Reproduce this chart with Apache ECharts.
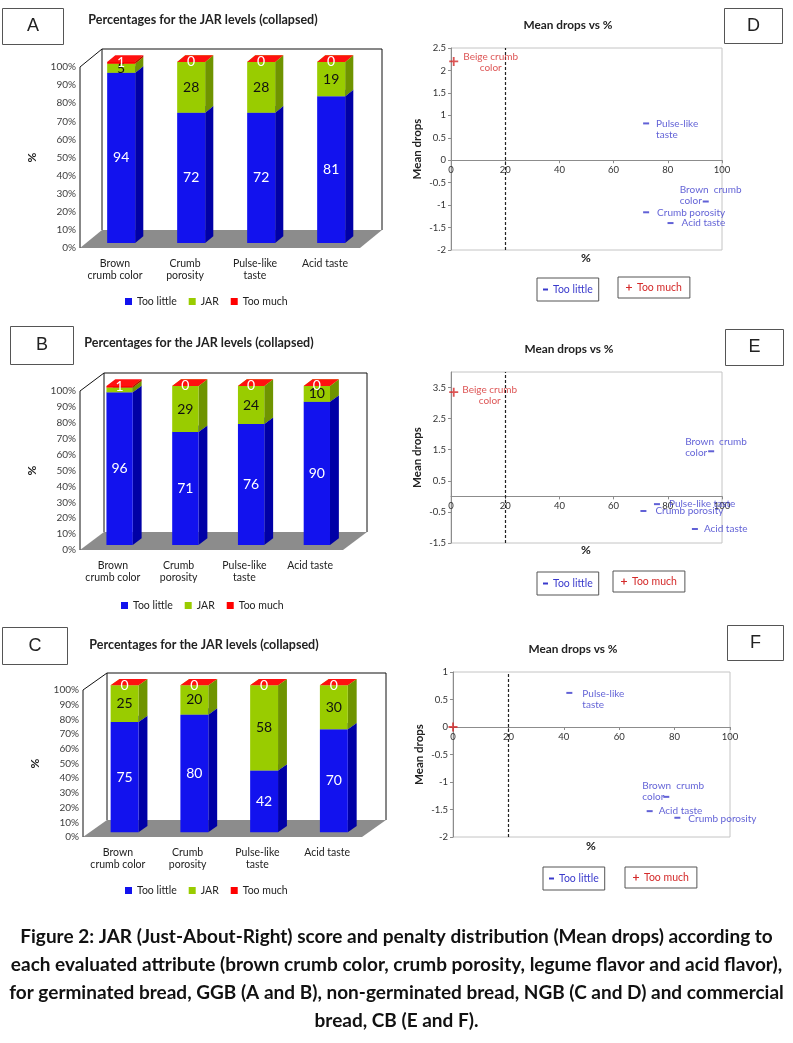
<!DOCTYPE html>
<html><head><meta charset="utf-8">
<script src="https://cdn.jsdelivr.net/npm/echarts/dist/echarts.min.js"></script>
<style>html,body{margin:0;padding:0;background:#fff}#c{width:793px;height:1043px}</style>
</head><body><div id="c"></div><script>
// ---------------- DATA ----------------
const categories = ['Brown\ncrumb color', 'Crumb\nporosity', 'Pulse-like\ntaste', 'Acid taste'];
const jarLevels = ['Too little', 'JAR', 'Too much'];
const A_tooLittle = [94, 72, 72, 81];
const A_jar       = [5, 28, 28, 19];
const A_tooMuch   = [1, 0, 0, 0];
const B_tooLittle = [96, 71, 76, 90];
const B_jar       = [3, 29, 24, 10];
const B_tooMuch   = [1, 0, 0, 0];
const C_tooLittle = [75, 80, 42, 70];
const C_jar       = [25, 20, 58, 30];
const C_tooMuch   = [0, 0, 0, 0];

const attributes = ['Brown crumb color', 'Crumb porosity', 'Pulse-like taste', 'Acid taste'];
const tooMuchAttribute = 'Beige crumb color';
const D_pct  = [94, 72, 72, 81];
const D_drop = [-0.92, -1.16, 0.82, -1.4];
const D_muchPct = [1], D_muchDrop = [2.2];
const E_pct  = [96, 71, 76, 90];
const E_drop = [1.45, -0.47, -0.25, -1.05];
const E_muchPct = [1], E_muchDrop = [3.35];
const F_pct  = [77, 81, 42, 71];
const F_drop = [-1.27, -1.65, 0.62, -1.53];
const F_muchPct = [0], F_muchDrop = [0];

const barTitle = 'Percentages for the JAR levels (collapsed)';
const scatterTitle = 'Mean drops vs %';
const captionLines = [
  'Figure 2: JAR (Just-About-Right) score and penalty distribution (Mean drops) according to',
  'each evaluated attribute (brown crumb color, crumb porosity, legume flavor and acid flavor),',
  'for germinated bread, GGB (A and B), non-germinated bread, NGB (C and D) and commercial',
  'bread, CB (E and F).'
];

// ---------------- STYLE ----------------
const FONT = 'Lato, "Open Sans", sans-serif';
const levelColors = [
  {front: '#1212ee', side: '#0000a6', top: '#2e2eff', label: '#ffffff', minLabel: 0},
  {front: '#99cc00', side: '#6f9400', top: '#a8d81a', label: '#111111', minLabel: 4},
  {front: '#ff0000', side: '#b80000', top: '#ff1010', label: '#ffffff', minLabel: 0}
];
const BLUE = '#3a3acc', RED = '#d42a2a';

const barPanels = [
  {grid: {left: 80, top: 67, width: 280, height: 181}, depth: [22, -18], levels: [A_tooLittle, A_jar, A_tooMuch], legend: {left: 125, top: 296}},
  {grid: {left: 80, top: 391, width: 263, height: 159}, depth: [24, -18], levels: [B_tooLittle, B_jar, B_tooMuch], legend: {left: 121, top: 600}},
  {grid: {left: 83, top: 690, width: 279, height: 147}, depth: [24, -17], levels: [C_tooLittle, C_jar, C_tooMuch], legend: {left: 125, top: 885}}
];

const labelText = {
  'Brown crumb color': 'Brown  crumb\ncolor',
  'Crumb porosity': 'Crumb porosity',
  'Pulse-like taste': 'Pulse-like\ntaste',
  'Acid taste': 'Acid taste'
};
const scatterPanels = [
  {grid: {left: 451, top: 48, width: 271, height: 202}, y: {min: -2, max: 2.5, interval: 0.5},
   pct: D_pct, drop: D_drop, muchPct: D_muchPct, muchDrop: D_muchDrop, muchLabel: [37, 1],
   lay: [['left', -26, -6], ['left', 11, 0], ['left', 10, 6], ['left', 11, 0]],
   legends: [{left: 537, top: 278}, {left: 618, top: 277}]},
  {grid: {left: 451, top: 372, width: 271, height: 171}, y: {min: -1.5, max: 4, interval: 1},
   pct: E_pct, drop: E_drop, muchPct: E_muchPct, muchDrop: E_muchDrop, muchLabel: [36, 3],
   lay: [['left', -26, -4], ['left', 12, 0], ['left', 12, 0, 'Pulse-like taste'], ['left', 9, 0]],
   legends: [{left: 537, top: 572}, {left: 613, top: 571}]},
  {grid: {left: 453, top: 672, width: 277, height: 165}, y: {min: -2, max: 1, interval: 0.5},
   pct: F_pct, drop: F_drop, muchPct: F_muchPct, muchDrop: F_muchDrop, muchLabel: null,
   lay: [['left', -24, -5.5], ['left', 11, 1], ['left', 13, 6], ['left', 9, 0]],
   legends: [{left: 543, top: 867}, {left: 625, top: 867}]}
];

// ---------------- BUILD ----------------
const grid = [], xAxis = [], yAxis = [], series = [], legend = [];

function frameRenderer(depth) {
  return function (params, api) {
    const cs = params.coordSys;
    const x = cs.x, y = cs.y, w = cs.width, h = cs.height, dx = depth[0], dy = depth[1];
    return {type: 'group', children: [
      {type: 'polygon', shape: {points: [[x, y + h], [x + w, y + h], [x + w + dx, y + h + dy], [x + dx, y + h + dy]]},
       style: {fill: '#8c8c8c'}},
      {type: 'polyline', shape: {points: [[x + dx, y + h + dy], [x + dx, y + dy], [x + w + dx, y + dy], [x + w + dx, y + h + dy]]},
       style: {fill: null, stroke: '#111', lineWidth: 1}},
      {type: 'polyline', shape: {points: [[x, y + h], [x, y], [x + dx, y + dy]]},
       style: {fill: null, stroke: '#111', lineWidth: 1}}
    ]};
  };
}

function barRenderer(depth, col) {
  return function (params, api) {
    const base = api.value(1), top = api.value(2), val = api.value(3), cat = api.value(0);
    const pB = api.coord([cat, base]), pT = api.coord([cat, top]);
    const band = api.size([1, 0])[0];
    const bw = band * 0.4;
    const ox = depth[0] * 0.28, oy = depth[1] * 0.28, dx = depth[0] * 0.37, dy = depth[1] * 0.37;
    const xl = pB[0] - bw / 2 + ox, xr = xl + bw;
    const yb = pB[1] + oy, yt = pT[1] + oy;
    const ch = [
      {type: 'polygon', shape: {points: [[xr, yt], [xr + dx, yt + dy], [xr + dx, yb + dy], [xr, yb]]}, style: {fill: col.side}},
      {type: 'rect', shape: {x: xl, y: yt, width: bw, height: yb - yt}, style: {fill: col.front}},
      {type: 'polygon', shape: {points: [[xl, yt], [xl + dx, yt + dy], [xr + dx, yt + dy], [xr, yt]]}, style: {fill: col.top}}
    ];
    if (val >= col.minLabel) {
      ch.push({type: 'text', z2: 20, x: (xl + xr) / 2, y: (yt + yb) / 2,
        style: {text: String(val), fill: col.label, fontSize: 14, fontFamily: FONT, align: 'center', verticalAlign: 'middle'}});
    }
    return {type: 'group', children: ch};
  };
}

barPanels.forEach((p, gi) => {
  grid.push(Object.assign({containLabel: false}, p.grid));
  xAxis.push({type: 'category', gridIndex: gi, data: categories,
    axisLine: {show: false}, axisTick: {show: false},
    axisLabel: {fontSize: 10.5, lineHeight: 12, color: '#222', margin: 10, fontFamily: FONT, interval: 0}});
  yAxis.push({type: 'value', gridIndex: gi, min: 0, max: 100, interval: 10,
    name: '%', nameLocation: 'middle', nameGap: 42, nameRotate: 90,
    nameTextStyle: {fontSize: 12, fontWeight: 'bold', color: '#222', fontFamily: FONT},
    axisLine: {show: false}, axisTick: {show: false}, splitLine: {show: false},
    axisLabel: {formatter: '{value}%', fontSize: 10, color: '#404040', margin: 4, fontFamily: FONT}});
  series.push({type: 'custom', name: 'frame' + gi, xAxisIndex: gi, yAxisIndex: gi, silent: true, z: 1,
    encode: {x: 0, y: 1}, data: [[0, 0]], renderItem: frameRenderer(p.depth)});
  const cum = categories.map(() => 0);
  p.levels.forEach((vals, li) => {
    const data = vals.map((v, i) => { const b = cum[i]; cum[i] += v; return [i, b, b + v, v]; });
    series.push({type: 'custom', name: jarLevels[li], xAxisIndex: gi, yAxisIndex: gi, z: 2 + li,
      itemStyle: {color: levelColors[li].front}, encode: {x: 0, y: [1, 2]}, data: data,
      renderItem: barRenderer(p.depth, levelColors[li])});
  });
  legend.push({left: p.legend.left, top: p.legend.top, padding: 0, itemWidth: 7, itemHeight: 7, itemGap: 12,
    icon: 'rect', selectedMode: false, data: jarLevels,
    textStyle: {fontSize: 10.5, color: '#222', fontFamily: FONT}});
});

const PLUS = 'path://M4,0H6V4H10V6H6V10H4V6H0V4H4Z';
scatterPanels.forEach((p, si) => {
  const gi = 3 + si;
  grid.push(Object.assign({show: true, borderColor: '#c4c4c4', borderWidth: 1, backgroundColor: 'transparent'}, p.grid));
  // place the x axis on the zero line of the y scale
  const zeroOffset = -p.grid.height * (0 - p.y.min) / (p.y.max - p.y.min);
  xAxis.push({type: 'value', gridIndex: gi, min: 0, max: 100, interval: 20, position: 'bottom', offset: zeroOffset,
    axisLine: {onZero: false, lineStyle: {color: '#8c8c8c'}},
    axisTick: {show: true, length: 3, lineStyle: {color: '#8c8c8c'}},
    splitLine: {show: false},
    axisLabel: {fontSize: 9.5, color: '#333', margin: 5, fontFamily: FONT}});
  yAxis.push({type: 'value', gridIndex: gi, min: p.y.min, max: p.y.max, interval: p.y.interval,
    name: 'Mean drops', nameLocation: 'middle', nameGap: 28, nameRotate: 90,
    nameTextStyle: {fontSize: 11.5, fontWeight: 'bold', color: '#222', fontFamily: FONT},
    axisLine: {show: true, onZero: false, lineStyle: {color: '#8c8c8c'}},
    axisTick: {show: true, length: 3, lineStyle: {color: '#8c8c8c'}},
    splitLine: {show: false},
    axisLabel: {fontSize: 9.5, color: '#333', margin: 5, fontFamily: FONT, showMaxLabel: p.y.max !== 4}});
  const lowData = p.pct.map((x, i) => {
    const L = p.lay[i];
    return {name: attributes[i], value: [x, p.drop[i]],
      label: {show: true, position: 'inside', align: L[0], verticalAlign: 'middle', offset: [L[1], L[2]],
        formatter: L[3] || labelText[attributes[i]]}};
  });
  series.push({type: 'scatter', name: 'Too little', xAxisIndex: gi, yAxisIndex: gi, z: 5,
    symbol: 'rect', symbolSize: [6, 2], itemStyle: {color: BLUE},
    label: {color: BLUE, fontSize: 10, lineHeight: 11, fontFamily: FONT},
    data: lowData,
    markLine: {silent: true, symbol: ['none', 'none'], label: {show: false},
      lineStyle: {type: [3, 2], color: '#222', width: 1.2}, data: [{xAxis: 20}]}});
  const muchData = p.muchPct.map((x, i) => ({name: tooMuchAttribute, value: [x, p.muchDrop[i]],
    label: p.muchLabel ? {show: true, position: 'inside', align: 'center', verticalAlign: 'middle',
      offset: p.muchLabel, formatter: 'Beige crumb\ncolor'} : {show: false}}));
  series.push({type: 'scatter', name: 'Too much', xAxisIndex: gi, yAxisIndex: gi, z: 5,
    symbol: PLUS, symbolSize: 9, itemStyle: {color: RED},
    label: {color: RED, fontSize: 10, lineHeight: 11, fontFamily: FONT},
    data: muchData});
  legend.push({left: p.legends[0].left, top: p.legends[0].top, padding: [6, 6], borderColor: '#555', borderWidth: 1,
    itemWidth: 5, itemHeight: 2, selectedMode: false,
    data: [{name: 'Too little', icon: 'rect', itemStyle: {color: BLUE}, textStyle: {color: BLUE}}],
    textStyle: {fontSize: 10.5, fontFamily: FONT}});
  legend.push({left: p.legends[1].left, top: p.legends[1].top, padding: [5, 8], borderColor: '#555', borderWidth: 1,
    itemWidth: 6, itemHeight: 6, selectedMode: false,
    data: [{name: 'Too much', icon: PLUS, itemStyle: {color: RED}, textStyle: {color: RED}}],
    textStyle: {fontSize: 10.5, fontFamily: FONT}});
});

// ---------------- GRAPHIC (titles, boxes, caption) ----------------
const graphic = [];
function txt(x, y, text, size, weight, color, family) {
  graphic.push({type: 'text', x: x, y: y, z: 50, style: {text: text, fontSize: size, fontWeight: weight || 'normal',
    fontFamily: family || FONT, fill: color || '#222', align: 'center', verticalAlign: 'middle'}});
}
function box(x, y, w, h, letter) {
  graphic.push({type: 'rect', z: 50, shape: {x: x, y: y, width: w, height: h}, style: {fill: '#fff', stroke: '#555', lineWidth: 1}});
  txt(x + w / 2, y + h / 2, letter, 18, 'normal', '#222', '"Liberation Sans", Arial, sans-serif');
}
box(2.5, 8.5, 61, 36, 'A');
box(10.5, 326.5, 63, 38, 'B');
box(2.5, 627.5, 65, 37, 'C');
box(724.5, 8.5, 58, 35, 'D');
box(725.5, 329.5, 58, 36, 'E');
box(727.5, 625.5, 56, 35, 'F');
txt(203, 20, barTitle, 12.5, 'bold');
txt(199, 343, barTitle, 12.5, 'bold');
txt(204, 645, barTitle, 12.5, 'bold');
txt(568, 25, scatterTitle, 11.8, 'bold');
txt(569, 349, scatterTitle, 11.8, 'bold');
txt(573, 649, scatterTitle, 11.8, 'bold');
txt(586, 258, '%', 12, 'bold');
txt(586, 550, '%', 12, 'bold');
txt(591, 846, '%', 12, 'bold');
[937, 965, 993, 1021].forEach((y, i) => txt(396.5, y, captionLines[i], 19, 'bold', '#111'));

const chart = echarts.init(document.getElementById('c'));
chart.setOption({
  backgroundColor: '#ffffff',
  animation: false,
  textStyle: {fontFamily: FONT},
  grid: grid, xAxis: xAxis, yAxis: yAxis, series: series, legend: legend, graphic: graphic
});
</script></body></html>
